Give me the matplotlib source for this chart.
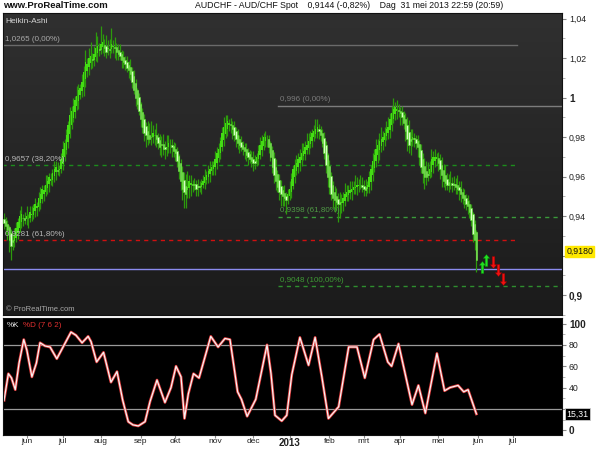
import numpy as np
import pandas as pd
import matplotlib
matplotlib.use("Agg")
import matplotlib.pyplot as plt
from matplotlib.path import Path
from matplotlib.colors import LinearSegmentedColormap

plt.rcParams['font.family'] = ['Liberation Sans', 'DejaVu Sans']

# ---------------- data ----------------
first_day = '2012-05-15'

# Heikin-Ashi closes (AUD/CHF, daily)
ha_close = [
    .9364, .935, .933, .928, .925, .927, .930, .934, .937, .940,
    .941, .939, .938, .940, .939, .942, .941, .944, .946, .945,
    .949, .951, .954, .953, .956, .958, .960, .959, .962, .964,
    .965, .963, .964, .969, .974, .977, .981, .986, .991, .993,
    .996, .999, 1.001, 1.004, 1.005, 1.008, 1.013, 1.018, 1.017, 1.020,
    1.021, 1.019, 1.022, 1.025, 1.026, 1.024, 1.027, 1.028, 1.025, 1.023,
    1.025, 1.024, 1.027, 1.026, 1.025, 1.023, 1.022, 1.021, 1.019, 1.018,
    1.017, 1.015, 1.014, 1.012, 1.008, 1.004, 1.000, .997, .993, .989,
    .985, .982, .981, .979, .979, .980, .982, .981, .979, .977,
    .975, .976, .974, .974, .975, .977, .976, .975, .973, .972,
    .968, .963, .958, .954, .952, .951, .955, .958, .957, .956,
    .956, .954, .955, .955, .957, .958, .960, .961, .963, .964,
    .965, .966, .969, .972, .974, .978, .982, .985, .987, .988,
    .987, .986, .984, .981, .979, .977, .976, .975, .974, .973,
    .971, .970, .969, .968, .967, .967, .970, .973, .976, .978,
    .980, .980, .979, .975, .970, .965, .961, .958, .955, .952,
    .951, .950, .949, .948, .951, .954, .959, .964, .966, .967,
    .969, .970, .972, .973, .975, .976, .978, .980, .982, .983,
    .984, .985, .983, .981, .977, .972, .966, .960, .955, .951,
    .949, .948, .947, .946, .946, .947, .949, .951, .952, .953,
    .953, .954, .955, .955, .956, .956, .956, .955, .954, .953,
    .956, .960, .964, .968, .971, .974, .976, .978, .979, .980,
    .982, .984, .985, .989, .992, .994, .995, .994, .993, .992,
    .990, .987, .983, .979, .976, .978, .980, .979, .977, .975,
    .970, .965, .962, .960, .960, .961, .964, .969, .970, .970,
    .970, .967, .964, .961, .958, .957, .956, .956, .957, .956,
    .956, .955, .954, .953, .951, .949, .948, .946, .945, .942,
    .938, .931, .928, .918,
]

# wick lengths above / below the body (in 0.001)
wick_up = [
    3, 2, 2, 1, 2, 3, 4, 3, 2, 3, 4, 2, 3, 5, 2, 3, 4, 2, 3, 2,
    3, 4, 2, 3, 5, 3, 2, 3, 2, 4, 3, 4, 2, 3, 4, 2, 3, 2, 4, 3,
    4, 2, 5, 3, 2, 4, 3, 6, 3, 5, 7, 3, 4, 8, 5, 3, 9, 4, 3, 6,
    4, 5, 8, 3, 5, 2, 3, 4, 2, 3, 2, 3, 2, 4, 2, 3, 2, 1, 2, 1,
    2, 3, 2, 5, 6, 8, 4, 3, 6, 2, 3, 4, 5, 3, 6, 4, 3, 3, 2, 3,
    2, 1, 2, 3, 4, 6, 8, 3, 4, 2, 3, 2, 4, 3, 2, 3, 4, 2, 3, 4,
    3, 2, 4, 3, 3, 2, 3, 5, 4, 3, 2, 3, 2, 3, 2, 3, 2, 3, 2, 2,
    3, 2, 2, 3, 4, 3, 2, 3, 4, 3, 2, 3, 2, 2, 1, 2, 3, 4, 2, 3,
    3, 2, 4, 2, 3, 4, 3, 2, 3, 4, 3, 4, 5, 4, 3, 6, 4, 3, 2, 3,
    5, 4, 3, 2, 2, 3, 2, 1, 3, 2, 2, 3, 4, 3, 5, 4, 3, 6, 4, 3,
    5, 4, 3, 6, 4, 3, 5, 4, 3, 4, 2, 3, 2, 4, 3, 5, 3, 4, 6, 3,
    3, 4, 5, 3, 4, 6, 3, 5, 3, 2, 3, 2, 3, 4, 6, 5, 4, 3, 2, 3,
    2, 3, 3, 4, 5, 6, 4, 5, 3, 4, 2, 3, 3, 4, 3, 5, 3, 4, 6, 3,
    4, 3, 5, 3, 4, 2, 3, 2, 3, 2, 2, 1, 2, 1,
]
wick_dn = [
    3, 4, 5, 6, 7, 4, 3, 2, 3, 2, 3, 4, 2, 3, 5, 2, 3, 2, 3, 4,
    2, 3, 2, 4, 2, 3, 4, 2, 3, 3, 4, 2, 3, 2, 3, 2, 2, 3, 2, 2,
    2, 3, 2, 4, 2, 3, 5, 4, 3, 4, 3, 4, 3, 2, 5, 3, 2, 3, 4, 3,
    3, 4, 2, 3, 5, 4, 3, 2, 4, 3, 3, 2, 4, 3, 3, 2, 4, 3, 2, 4,
    3, 4, 6, 3, 2, 4, 3, 5, 4, 3, 4, 6, 3, 5, 4, 3, 4, 5, 3, 4,
    3, 4, 5, 6, 8, 7, 4, 5, 6, 4, 3, 4, 5, 3, 4, 2, 3, 2, 3, 4,
    2, 3, 4, 3, 2, 3, 2, 3, 2, 4, 3, 4, 5, 3, 4, 3, 4, 2, 3, 4,
    3, 4, 2, 3, 4, 3, 2, 3, 2, 3, 2, 3, 4, 3, 2, 3, 4, 5, 3, 4,
    6, 5, 4, 7, 3, 2, 3, 2, 3, 2, 3, 4, 3, 2, 3, 2, 3, 2, 3, 2,
    2, 3, 4, 3, 2, 3, 4, 5, 4, 3, 5, 6, 4, 9, 7, 5, 4, 3, 2, 3,
    3, 4, 2, 3, 4, 3, 2, 3, 4, 3, 2, 3, 4, 3, 2, 3, 4, 5, 3, 4,
    3, 2, 3, 4, 3, 2, 3, 4, 3, 6, 4, 3, 5, 6, 4, 7, 3, 4, 3, 5,
    4, 3, 5, 6, 4, 3, 2, 3, 4, 3, 3, 4, 5, 6, 3, 4, 3, 4, 3, 4,
    3, 4, 3, 5, 4, 3, 4, 3, 4, 3, 3, 4, 5, 6,
]

# Stochastic %K (7 6 2) read at turning points: trading-day number, value
stoch_day = [0, 2.5, 4.3, 6.5, 8.7, 11.4, 13.2, 16.1, 18.7, 20.8, 23.7, 26.6,
             30.5, 34.1, 38.7, 41.6, 45.1, 48.6, 50.3, 53.5, 57.5, 61.8, 65.3,
             68.6, 71.8, 74.5, 77.6, 81.5, 84.4, 88.4, 93, 96.5, 99.4, 102.3,
             104.3, 106.5, 109.5, 112.7,
             119.5, 123.7, 127.7, 130.6, 135, 137.2, 140.5, 145.5, 152, 154.3,
             156.6, 160.5, 163.4, 166.3, 171, 176, 179.8, 183.7, 187.5, 193.4,
             199.2, 204, 208.5, 213.6, 217, 221.8, 224, 228, 235.8, 239.5,
             243.5, 250.2, 254.6, 257.8, 262.4, 265.7, 268.2, 273]
stoch_k = [28, 53, 49, 38, 63, 85, 75, 50, 63, 82, 79, 78,
           67, 78, 92, 89, 82, 88, 83, 64, 73, 45, 55,
           28, 8, 5, 4, 8, 27, 47, 26, 40, 60, 50,
           11, 34, 53, 49,
           88, 78, 86, 85, 36, 29, 13, 29, 80, 53,
           14, 8.7, 14, 52, 87, 61, 87, 50, 11, 22,
           78, 78, 49, 85, 90, 64, 60, 81, 24, 42,
           16, 72, 37, 40, 42, 36, 38, 15.31]

# Fibonacci retracements
fib1_levels = [1.0265, 0.9657, 0.9281]
fib1_text = ['1,0265 (0,00%)', '0,9657 (38,20%)', '0,9281 (61,80%)']
fib1_days = (-1, 296.5)
fib2_levels = [0.996, 0.9398, 0.9048]
fib2_text = ['0,996 (0,00%)', '0,9398 (61,80%)', '0,9048 (100,00%)']
fib2_days = (158.4, 330)
support_level = 0.9134
last_value = 0.9180
last_text = '0,9180'
stoch_text = '15,31'

# candlestick-pattern signals
sig_up_day = [276.5, 278.4]
sig_up_price = [0.9142, 0.9180]
sig_dn_day = [282.7, 285.7, 288.4]
sig_dn_price = [0.9167, 0.9127, 0.9084]

month_labels = ['jun', 'jul', 'aug', 'sep', 'okt', 'nov', 'dec', '2013',
                'feb', 'mrt', 'apr', 'mei', 'jun', 'jul']
price_ticks = [0.90, 0.92, 0.94, 0.96, 0.98, 1.00, 1.02, 1.04]
stoch_ticks = [0, 20, 40, 60, 80, 100]

# ---------------- computation ----------------
c = np.array(ha_close)
n = len(c)
o = np.empty(n)
o[0] = c[0] + 0.002
for i in range(1, n):
    o[i] = (o[i - 1] + c[i - 1]) / 2
hi = np.maximum(o, c) + np.array(wick_up) * 1e-3
lo = np.minimum(o, c) - np.array(wick_dn) * 1e-3
x = np.arange(n)

cal = pd.bdate_range(first_day, '2013-08-30')
month_pos = [i for i in range(1, len(cal)) if cal[i].month != cal[i - 1].month]
month_pos = month_pos[:len(month_labels)]

# ---------------- figure ----------------
fig = plt.figure(figsize=(6, 4.5), dpi=100, facecolor='white')
ax = fig.add_axes([0.005, 0.30, 0.9317, 0.6711])
ax2 = fig.add_axes([0.005, 0.0333, 0.9317, 0.2600])

xl = (-0.6, 322.5)

# gradient background
grad = np.linspace(0, 1, 256).reshape(-1, 1)
cmap = LinearSegmentedColormap.from_list('bg', ['#303030', '#1b1b1b'])
ax.imshow(grad, extent=(0, 1, 0, 1), transform=ax.transAxes, aspect='auto',
          cmap=cmap, zorder=0)

# fib lines
fib1_styles = [dict(color='#6a6a6a', ls='-'), dict(color='#1c8c1c', ls=(0, (3, 3))),
               dict(color='#d01010', ls=(0, (3, 3)))]
fib1_tcol = ['#a8a8a8', '#b8b8b8', '#b8b8b8']
for lev, txt, st, tc in zip(fib1_levels, fib1_text, fib1_styles, fib1_tcol):
    ax.plot(fib1_days, [lev, lev], lw=1, zorder=1, **st)
    ax.annotate(txt, (0.5, lev), xytext=(0, 1.5), textcoords='offset points',
                fontsize=5.8, color=tc, va='bottom', ha='left', zorder=5)
fib2_styles = [dict(color='#7c7c7c', ls='-'), dict(color='#3a9a3a', ls=(0, (3, 3))),
               dict(color='#2e8e2e', ls=(0, (3, 3)))]
fib2_tcol = ['#7a7a7a', '#4f9a45', '#3f9a35']
for lev, txt, st, tc in zip(fib2_levels, fib2_text, fib2_styles, fib2_tcol):
    ax.plot(fib2_days, [lev, lev], lw=1, zorder=1, **st)
    ax.annotate(txt, (fib2_days[0] + 1, lev), xytext=(0, 1.5),
                textcoords='offset points', fontsize=5.8, color=tc,
                va='bottom', ha='left', zorder=5)

ax.axhline(support_level, color='#8c8cf0', lw=1, zorder=1)

# candles
up = c >= o
ax.vlines(x, lo, hi, color='#2c9a0c', lw=0.9, zorder=2)
ax.bar(x[up], (c - o)[up], bottom=o[up], width=0.8, color='#44dc14',
       edgecolor='none', zorder=3)
ax.bar(x[~up], (o - c)[~up], bottom=c[~up], width=0.8, color='#d6ffc4',
       edgecolor='#58e02a', linewidth=0.4, zorder=3)

# signal arrows
arrow = Path([(0, 1), (-0.55, 0.35), (-0.22, 0.35), (-0.22, -1), (0.22, -1),
              (0.22, 0.35), (0.55, 0.35), (0, 1)], closed=True)
arrow_dn = Path(arrow.vertices * [1, -1], closed=True)
ax.scatter(sig_up_day, sig_up_price, marker=arrow, s=75, color='#22e022',
           edgecolor='#0a7a0a', linewidth=0.3, zorder=6)
ax.scatter(sig_dn_day, sig_dn_price, marker=arrow_dn, s=75, color='#f01010',
           edgecolor='#800000', linewidth=0.3, zorder=6)

ax.set_xlim(*xl)
ax.set_ylim(0.8912, 1.0428)
ax.set_xticks([])
ax.yaxis.tick_right()
ax.set_yticks(price_ticks)
ax.set_yticks(np.arange(0.89, 1.045, 0.01), minor=True)


def pfmt(v):
    s = f"{v:.2f}".rstrip('0').rstrip('.')
    return s.replace('.', ',')


# the 0,92 label sits under the yellow last-value box
ax.set_yticklabels(['' if v == 0.92 else pfmt(v) for v in price_ticks])
ax.tick_params(axis='y', which='major', length=3, color='#888888', labelsize=6.3,
               labelcolor='#222222', pad=2)
ax.tick_params(axis='y', which='minor', length=2, color='#aaaaaa')
for lab, v in zip(ax.get_yticklabels(), price_ticks):
    if v in (0.90, 1.00):
        lab.set_fontweight('bold')
        lab.set_fontsize(7.2)
for sp in ax.spines.values():
    sp.set_color('#111111')
    sp.set_linewidth(0.8)

ax.text(0.005, 0.985, 'Heikin-Ashi', transform=ax.transAxes, fontsize=6,
        color='#d4d4d4', va='top', ha='left', zorder=7)
ax.text(0.005, 0.008, '© ProRealTime.com', transform=ax.transAxes, fontsize=5.5,
        color='#a8a8a8', va='bottom', ha='left', zorder=7)

ax.annotate(last_text, (1.0, last_value),
            xycoords=('axes fraction', 'data'), xytext=(3, 6),
            textcoords='offset points', fontsize=6.3, color='#111111',
            va='center', ha='left', annotation_clip=False,
            bbox=dict(boxstyle='square,pad=0.1', fc='#ffe800', ec='#ffe800'))

# ---------------- stochastic panel ----------------
ax2.set_facecolor('#000000')
ax2.axhline(80, color='#9a9a9a', lw=0.9)
ax2.axhline(20, color='#9a9a9a', lw=0.9)
ax2.plot(stoch_day, stoch_k, color='#e23a3a', lw=2.0, solid_joinstyle='round')
ax2.plot(stoch_day, stoch_k, color='#f4f4f4', lw=0.9, solid_joinstyle='round')
ax2.set_xlim(*xl)
ax2.set_ylim(-4.5, 105.2)
ax2.yaxis.tick_right()
ax2.set_yticks(stoch_ticks)
ax2.set_yticks(range(0, 101, 10), minor=True)
# the 20 label sits under the last-value box
ax2.set_yticklabels(['' if v == 20 else str(v) for v in stoch_ticks])
ax2.tick_params(axis='y', which='major', length=3, color='#888888', labelsize=6.3,
                labelcolor='#222222', pad=2)
ax2.tick_params(axis='y', which='minor', length=2, color='#aaaaaa')
for lab, v in zip(ax2.get_yticklabels(), stoch_ticks):
    if v in (0, 100):
        lab.set_fontweight('bold')
        lab.set_fontsize(7.2)
ax2.set_xticks(month_pos)
ax2.set_xticklabels(month_labels)
ax2.tick_params(axis='x', length=2, color='#888888', labelsize=6,
                labelcolor='#222222', pad=0.5)
for lab in ax2.get_xticklabels():
    if lab.get_text() == '2013':
        lab.set_fontweight('bold')
        lab.set_fontsize(7)
for sp in ax2.spines.values():
    sp.set_color('#111111')
    sp.set_linewidth(0.8)

ax2.text(0.006, 0.965, '%K', transform=ax2.transAxes, fontsize=5.8,
         color='#e8e8e8', va='top', ha='left')
ax2.text(0.035, 0.965, '%D (7 6 2)', transform=ax2.transAxes, fontsize=5.8,
         color='#e03030', va='top', ha='left')
ax2.annotate(stoch_text, (1.0, stoch_k[-1]), xycoords=('axes fraction', 'data'),
             xytext=(3, 0), textcoords='offset points', fontsize=6.3,
             color='#ffffff', va='center', ha='left', annotation_clip=False,
             bbox=dict(boxstyle='square,pad=0.15', fc='#000000', ec='#cccccc',
                       lw=0.6))

# ---------------- header ----------------
fig.text(0.005, 0.987, 'www.ProRealTime.com', fontsize=6.8, fontweight='bold',
         color='#111111', va='center', ha='left')
fig.text(0.325, 0.987,
         'AUDCHF - AUD/CHF Spot    0,9144 (-0,82%)    Dag  31 mei 2013 22:59 (20:59)',
         fontsize=6.3, color='#111111', va='center', ha='left')

fig.savefig('out.png', dpi=100, facecolor='white')
